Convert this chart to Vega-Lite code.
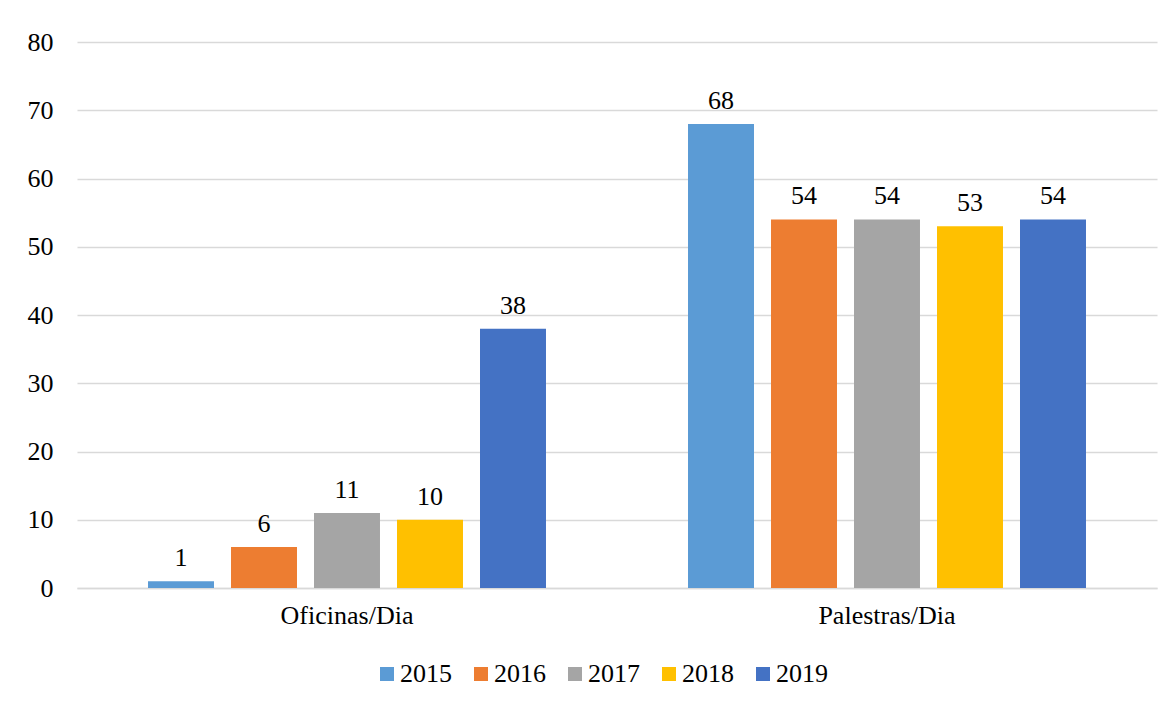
{
  "$schema": "https://vega.github.io/schema/vega-lite/v6.json",
  "autosize": {"type": "none"},
  "width": 1080,
  "height": 546,
  "padding": {"left": 77, "top": 42, "right": 16, "bottom": 116},
  "background": "white",
  "data": {
    "values": [
      {"categoria": "Oficinas/Dia", "ano": "2015", "valor": 1},
      {"categoria": "Oficinas/Dia", "ano": "2016", "valor": 6},
      {"categoria": "Oficinas/Dia", "ano": "2017", "valor": 11},
      {"categoria": "Oficinas/Dia", "ano": "2018", "valor": 10},
      {"categoria": "Oficinas/Dia", "ano": "2019", "valor": 38},
      {"categoria": "Palestras/Dia", "ano": "2015", "valor": 68},
      {"categoria": "Palestras/Dia", "ano": "2016", "valor": 54},
      {"categoria": "Palestras/Dia", "ano": "2017", "valor": 54},
      {"categoria": "Palestras/Dia", "ano": "2018", "valor": 53},
      {"categoria": "Palestras/Dia", "ano": "2019", "valor": 54}
    ]
  },
  "encoding": {
    "x": {
      "field": "categoria", "type": "nominal", "title": null,
      "scale": {"paddingInner": 0.263, "paddingOuter": 0.1315},
      "axis": {"labelAngle": 0, "ticks": false, "domain": true, "domainColor": "#D9D9D9", "domainWidth": 1.5, "labelPadding": 14, "labelFont": "Liberation Serif", "labelFontSize": 26, "labelColor": "#000000", "grid": false}
    },
    "xOffset": {"field": "ano", "type": "nominal", "scale": {"paddingInner": 0.205, "paddingOuter": 0}},
    "y": {
      "field": "valor", "type": "quantitative", "title": null,
      "scale": {"domain": [0, 80], "nice": false},
      "axis": {"values": [0, 10, 20, 30, 40, 50, 60, 70, 80], "domain": false, "ticks": false, "labelPadding": 24, "labelFont": "Liberation Serif", "labelFontSize": 26, "labelColor": "#000000", "gridColor": "#D9D9D9", "gridWidth": 1.5}
    }
  },
  "layer": [
    {
      "mark": {"type": "bar"},
      "encoding": {
        "color": {
          "field": "ano", "type": "nominal", "title": null,
          "scale": {"domain": ["2015", "2016", "2017", "2018", "2019"], "range": ["#5B9BD5", "#ED7D31", "#A5A5A5", "#FFC000", "#4472C4"]},
          "legend": {"orient": "none", "direction": "horizontal", "legendX": 297, "legendY": 619, "symbolType": "square", "symbolSize": 196, "symbolStrokeWidth": 0, "labelFont": "Liberation Serif", "labelFontSize": 26, "labelColor": "#000000", "labelOffset": 0, "columnPadding": 16}
        }
      }
    },
    {
      "mark": {"type": "text", "baseline": "alphabetic", "dy": -15, "font": "Liberation Serif", "fontSize": 26, "color": "#000000"},
      "encoding": {"text": {"field": "valor", "type": "quantitative"}}
    }
  ],
  "config": {"view": {"stroke": null}}
}
